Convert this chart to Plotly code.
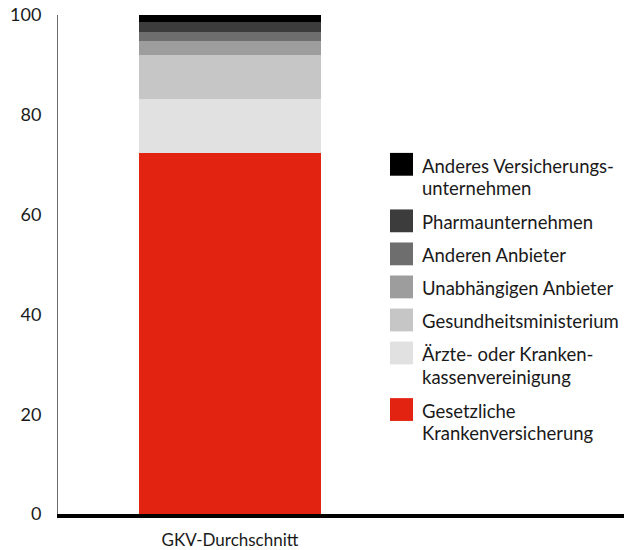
import plotly.graph_objects as go

# Stacked shares for the GKV average, listed from the bottom of the bar upwards
category = ["GKV-Durchschnitt"]
series_names = [
    "Gesetzliche|Krankenversicherung",
    "Ärzte- oder Kranken-|kassenvereinigung",
    "Gesundheitsministerium",
    "Unabhängigen Anbieter",
    "Anderen Anbieter",
    "Pharmaunternehmen",
    "Anderes Versicherungs-|unternehmen",
]
series_values = [72.4, 10.7, 8.9, 2.8, 1.8, 2.0, 1.4]
series_colors = ["#e32312", "#e1e1e1", "#c6c6c6", "#9d9d9d", "#6e6e6e", "#3c3c3c", "#000000"]
y_ticks = [0, 20, 40, 60, 80, 100]

FONT = "Lato"
W, H = 624, 550
M_L, M_R, M_T, M_B = 58, 0, 15, 32
PLOT_W = W - M_L - M_R
PLOT_H = H - M_T - M_B

fig = go.Figure()
for name, val, col in zip(series_names, series_values, series_colors):
    label = name.replace("-|", "-").replace("|", " ")
    fig.add_trace(go.Bar(
        x=[0], y=[val], name=label,
        marker=dict(color=col, line=dict(width=0)),
        width=1.0, showlegend=False,
        hovertemplate="%{y}<extra>" + label + "</extra>",
    ))


def px_x(x):
    return (x - M_L) / PLOT_W


def px_y(y):
    return (H - M_B - y) / PLOT_H


# Hand-built legend: large swatches with (possibly two-line) labels, top to bottom
shapes, annotations = [], []
sq = 23
line_h = 22.5
cy = 165.5
for name, col in zip(reversed(series_names), reversed(series_colors)):
    lines = name.split("|")
    shapes.append(dict(
        type="rect", xref="paper", yref="paper",
        x0=px_x(390), x1=px_x(390 + sq), y0=px_y(cy + sq / 2), y1=px_y(cy - sq / 2),
        fillcolor=col, line=dict(width=0),
    ))
    for i, ln in enumerate(lines):
        annotations.append(dict(
            xref="paper", yref="paper", x=px_x(420), y=px_y(cy + 1.5 + i * line_h),
            xanchor="left", yanchor="middle", align="left", showarrow=False,
            text=ln, font=dict(family=FONT, size=18.5, color="#1a1a1a"),
        ))
    cy += 33.3 + (len(lines) - 1) * 23.7

fig.update_layout(
    width=W, height=H,
    margin=dict(l=M_L, r=M_R, t=M_T, b=M_B),
    barmode="stack",
    plot_bgcolor="white", paper_bgcolor="white",
    font=dict(family=FONT, size=17, color="#1a1a1a"),
    shapes=shapes, annotations=annotations,
    xaxis=dict(
        range=[-0.945, 2.165], tickmode="array", tickvals=[0], ticktext=category,
        showgrid=False, zeroline=False, showline=True, linecolor="black", linewidth=4,
        ticks="", tickfont=dict(size=17), ticklabelstandoff=8,
    ),
    yaxis=dict(
        range=[0, 100], tickmode="array", tickvals=y_ticks,
        showgrid=False, zeroline=False, showline=True, linecolor="#6b6b6b", linewidth=1,
        ticks="", tickfont=dict(size=18), ticklabelstandoff=12,
    ),
)

fig.write_html("out.html")
